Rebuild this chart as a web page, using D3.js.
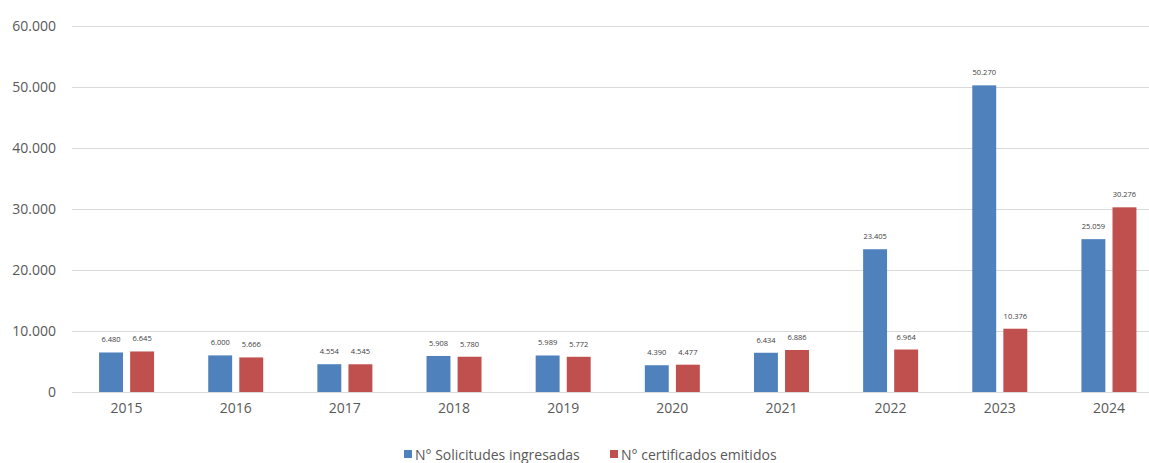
<!DOCTYPE html>
<meta charset="utf-8">
<style>
body {
  margin: 0;
  background: #ffffff;
  font-family: 'Open Sans', sans-serif;
}

svg {
  display: block;
}

.grid line {
  stroke: #d9d9d9;
  stroke-width: 1;
}

.grid path {
  stroke-width: 0;
}

.axis text {
  font-family: 'Open Sans', sans-serif;
  font-size: 14px;
  fill: #595959;
}

.axis path, .axis line {
  stroke: none;
}

text.value {
  font-size: 7.5px;
  fill: #404040;
}

text.legend {
  font-size: 14px;
  fill: #595959;
}
</style>
<body>
<svg width="1149" height="463"></svg>

<script src="https://d3js.org/d3.v7.min.js"></script>
<script>

    const years = ['2015', '2016', '2017', '2018', '2019', '2020', '2021', '2022', '2023', '2024'];
    const solicitudes = [6480, 6000, 4554, 5908, 5989, 4390, 6434, 23405, 50270, 25059];
    const certificados = [6645, 5666, 4545, 5780, 5772, 4477, 6886, 6964, 10376, 30276];
    const yTicks = [0, 10000, 20000, 30000, 40000, 50000, 60000];
    const seriesNames = ['N° Solicitudes ingresadas', 'N° certificados emitidos'];
    const colors = ['#4f81bd', '#c0504d'];

    const locale = d3.formatLocale({ decimal: ',', thousands: '.', grouping: [3], currency: ['', ''] });
    const fmt = locale.format(',d');

    const svg = d3.select('svg');

    const plotLeft = 72;
    const plotTop = 26;
    const plotBottom = 392;

    const xScale = d3.scaleBand()
      .domain(years)
      .range([plotLeft, 1163.5])
      .padding(0);

    const yScale = d3.scaleLinear()
      .domain([0, 60000])
      .range([plotBottom, plotTop]);

    // gridlines
    svg.append('g')
      .attr('class', 'grid')
      .attr('transform', `translate(${plotLeft}, 0)`)
      .call(d3.axisLeft(yScale)
        .tickValues(yTicks)
        .tickSize(-(1149 - plotLeft))
        .tickFormat(''));

    // y axis labels
    svg.append('g')
      .attr('class', 'axis')
      .attr('transform', `translate(${plotLeft - 14}, 0)`)
      .call(d3.axisLeft(yScale)
        .tickValues(yTicks)
        .tickSize(0)
        .tickPadding(2)
        .tickFormat(fmt));

    // x axis labels
    svg.append('g')
      .attr('class', 'axis')
      .attr('transform', `translate(0, ${plotBottom})`)
      .call(d3.axisBottom(xScale)
        .tickSize(0)
        .tickPadding(11));

    const inner = d3.scaleBand()
      .domain([0, 1])
      .range([-27.5, 27.5])
      .paddingInner(0.23);

    const rows = years.map((y, i) => ({ year: y, values: [solicitudes[i], certificados[i]] }));

    const groups = svg.selectAll('.year')
      .data(rows)
      .enter()
      .append('g')
      .attr('class', 'year')
      .attr('transform', (d) => `translate(${xScale(d.year) + xScale.bandwidth() / 2}, 0)`);

    groups.selectAll('rect')
      .data((d) => d.values.map((v, k) => ({ k, v })))
      .enter()
      .append('rect')
      .attr('x', (d) => inner(d.k))
      .attr('y', (d) => yScale(d.v))
      .attr('width', inner.bandwidth())
      .attr('height', (d) => plotBottom - yScale(d.v))
      .attr('fill', (d) => colors[d.k]);

    groups.selectAll('text.value')
      .data((d) => d.values.map((v, k) => ({ k, v })))
      .enter()
      .append('text')
      .attr('class', 'value')
      .attr('x', (d) => inner(d.k) + inner.bandwidth() / 2)
      .attr('y', (d) => yScale(d.v) - 10)
      .attr('text-anchor', 'middle')
      .text((d) => fmt(d.v));

    // legend
    const legendX = [404, 610];
    const legend = svg.selectAll('.leg')
      .data(seriesNames)
      .enter()
      .append('g')
      .attr('class', 'leg')
      .attr('transform', (d, i) => `translate(${legendX[i]}, 455)`);

    legend.append('rect')
      .attr('x', 0)
      .attr('y', -5)
      .attr('width', 8)
      .attr('height', 8)
      .attr('fill', (d, i) => colors[i]);

    legend.append('text')
      .attr('class', 'legend')
      .attr('x', 11)
      .attr('y', 5)
      .text((d) => d);

</script>
</body>
